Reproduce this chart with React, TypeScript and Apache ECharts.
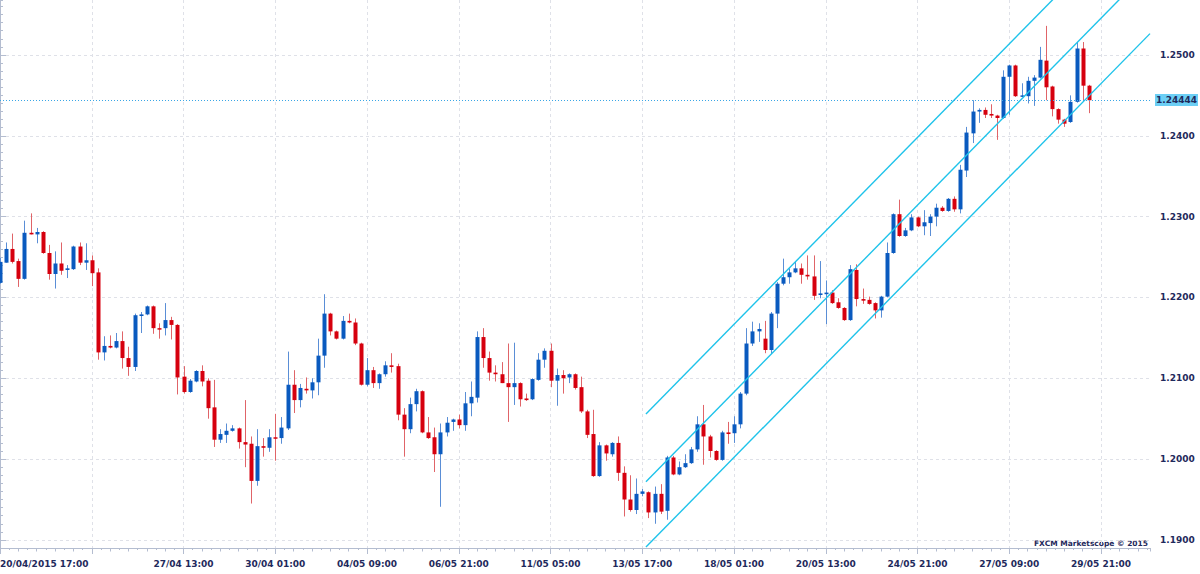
import React, { useEffect, useRef } from "react";
import * as echarts from "echarts";

// ---- data (4H candles, index = bar number) ----
const opens = [
  1.2218, 1.2243, 1.2260, 1.2245, 1.2223, 1.2280, 1.2278, 1.2281, 1.2255, 1.2229,
  1.2242, 1.2234, 1.2235, 1.2263, 1.2243, 1.2246, 1.2231, 1.2132, 1.2140, 1.2138,
  1.2146, 1.2125, 1.2114, 1.2177, 1.2179, 1.2189, 1.2162, 1.2162, 1.2172, 1.2166,
  1.2102, 1.2083, 1.2096, 1.2109, 1.2097, 1.2064, 1.2024, 1.2030, 1.2035, 1.2038,
  1.2021, 1.2019, 1.1973, 1.2016, 1.2014, 1.2027, 1.2026, 1.2038, 1.2092, 1.2073,
  1.2087, 1.2085, 1.2095, 1.2128, 1.2180, 1.2158, 1.2149, 1.2171, 1.2169, 1.2143,
  1.2092, 1.2110, 1.2094, 1.2105, 1.2116, 1.2115, 1.2055, 1.2037, 1.2068, 1.2084,
  1.2033, 1.2027, 1.2006, 1.2033, 1.2046, 1.2049, 1.2042, 1.2069, 1.2076, 1.2151,
  1.2125, 1.2107, 1.2105, 1.2094, 1.2089, 1.2094, 1.2075, 1.2074, 1.2098, 1.2123,
  1.2134, 1.2097, 1.2104, 1.2101, 1.2105, 1.2089, 1.2059, 1.2031, 1.1979, 1.2017,
  1.2006, 1.2020, 1.1983, 1.1950, 1.1937, 1.1957, 1.1959, 1.1934, 1.1957, 1.1936,
  1.2002, 1.1981, 1.1990, 1.1995, 1.2012, 1.2043, 1.2028, 1.2010, 1.1999, 1.2033,
  1.2032, 1.2043, 1.2081, 1.2143, 1.2158, 1.2149, 1.2135, 1.2180, 1.2217, 1.2225,
  1.2231, 1.2236, 1.2228, 1.2226, 1.2203, 1.2204, 1.2206, 1.2194, 1.2187, 1.2172,
  1.2234, 1.2198, 1.2197, 1.2193, 1.2184, 1.2201, 1.2255, 1.2303, 1.2276, 1.2283,
  1.2299, 1.2288, 1.2292, 1.2300, 1.2311, 1.2307, 1.2322, 1.2309, 1.2357, 1.2403,
  1.2430, 1.2432, 1.2427, 1.2425, 1.2422, 1.2473, 1.2487, 1.2449, 1.2449, 1.2468,
  1.2472, 1.2493, 1.2461, 1.2433, 1.2420, 1.2417, 1.2442, 1.2508, 1.2462,
];
const closes = [
  1.2244, 1.2260, 1.2244, 1.2223, 1.2280, 1.2278, 1.2281, 1.2255, 1.2229, 1.2242,
  1.2233, 1.2236, 1.2263, 1.2243, 1.2246, 1.2230, 1.2132, 1.2140, 1.2138, 1.2146,
  1.2125, 1.2114, 1.2178, 1.2179, 1.2189, 1.2162, 1.2161, 1.2172, 1.2166, 1.2101,
  1.2083, 1.2097, 1.2109, 1.2096, 1.2063, 1.2024, 1.2031, 1.2035, 1.2038, 1.2021,
  1.2018, 1.1973, 1.2016, 1.2014, 1.2027, 1.2026, 1.2039, 1.2092, 1.2073, 1.2088,
  1.2085, 1.2095, 1.2128, 1.2180, 1.2158, 1.2149, 1.2171, 1.2169, 1.2143, 1.2092,
  1.2110, 1.2094, 1.2105, 1.2116, 1.2114, 1.2055, 1.2037, 1.2068, 1.2084, 1.2033,
  1.2026, 1.2006, 1.2033, 1.2045, 1.2049, 1.2042, 1.2069, 1.2077, 1.2151, 1.2125,
  1.2107, 1.2105, 1.2094, 1.2089, 1.2094, 1.2074, 1.2073, 1.2099, 1.2123, 1.2134,
  1.2097, 1.2104, 1.2100, 1.2105, 1.2088, 1.2059, 1.2030, 1.1979, 1.2017, 1.2007,
  1.2020, 1.1983, 1.1950, 1.1937, 1.1957, 1.1960, 1.1934, 1.1957, 1.1935, 1.2002,
  1.1981, 1.1990, 1.1995, 1.2012, 1.2043, 1.2028, 1.2010, 1.1999, 1.2033, 1.2031,
  1.2043, 1.2081, 1.2143, 1.2158, 1.2161, 1.2135, 1.2180, 1.2217, 1.2225, 1.2231,
  1.2236, 1.2228, 1.2226, 1.2202, 1.2205, 1.2206, 1.2193, 1.2187, 1.2172, 1.2235,
  1.2198, 1.2196, 1.2192, 1.2184, 1.2201, 1.2255, 1.2303, 1.2276, 1.2283, 1.2299,
  1.2288, 1.2293, 1.2300, 1.2311, 1.2307, 1.2322, 1.2309, 1.2358, 1.2404, 1.2430,
  1.2432, 1.2426, 1.2425, 1.2422, 1.2473, 1.2487, 1.2449, 1.2450, 1.2468, 1.2472,
  1.2494, 1.2460, 1.2433, 1.2420, 1.2415, 1.2442, 1.2508, 1.2462, 1.2444,
];
const lows = [
  1.2217, 1.2243, 1.2242, 1.2213, 1.2222, 1.2278, 1.2267, 1.2254, 1.2222, 1.2211,
  1.2228, 1.2224, 1.2234, 1.2240, 1.2234, 1.2214, 1.2123, 1.2122, 1.2137, 1.2137,
  1.2112, 1.2103, 1.2109, 1.2156, 1.2178, 1.2155, 1.2149, 1.2153, 1.2148, 1.2080,
  1.2081, 1.2082, 1.2095, 1.2090, 1.2050, 1.2015, 1.2020, 1.2020, 1.2034, 1.2013,
  1.1990, 1.1945, 1.1967, 1.2003, 1.2009, 1.1998, 1.2019, 1.2036, 1.2057, 1.2064,
  1.2081, 1.2075, 1.2079, 1.2113, 1.2153, 1.2148, 1.2148, 1.2168, 1.2141, 1.2091,
  1.2090, 1.2088, 1.2087, 1.2102, 1.2107, 1.2048, 1.2003, 1.2032, 1.2059, 1.2032,
  1.2025, 1.1984, 1.1941, 1.2028, 1.2035, 1.2038, 1.2035, 1.2053, 1.2070, 1.2113,
  1.2097, 1.2096, 1.2094, 1.2046, 1.2067, 1.2065, 1.2072, 1.2073, 1.2097, 1.2113,
  1.2089, 1.2066, 1.2081, 1.2094, 1.2086, 1.2057, 1.2026, 1.1978, 1.1978, 1.1998,
  1.2003, 1.1973, 1.1929, 1.1935, 1.1932, 1.1954, 1.1927, 1.1920, 1.1932, 1.1925,
  1.1980, 1.1980, 1.1989, 1.1994, 1.2009, 1.1993, 1.2002, 1.1998, 1.1998, 1.2019,
  1.2020, 1.2038, 1.2079, 1.2140, 1.2145, 1.2131, 1.2130, 1.2162, 1.2215, 1.2217,
  1.2230, 1.2217, 1.2222, 1.2197, 1.2199, 1.2167, 1.2192, 1.2186, 1.2171, 1.2171,
  1.2189, 1.2192, 1.2191, 1.2174, 1.2175, 1.2200, 1.2254, 1.2275, 1.2275, 1.2282,
  1.2287, 1.2277, 1.2276, 1.2288, 1.2306, 1.2306, 1.2306, 1.2304, 1.2349, 1.2391,
  1.2416, 1.2422, 1.2422, 1.2395, 1.2421, 1.2426, 1.2448, 1.2448, 1.2440, 1.2437,
  1.2471, 1.2444, 1.2424, 1.2415, 1.2411, 1.2416, 1.2441, 1.2444, 1.2428,
];
const highs = [
  1.2249, 1.2268, 1.2279, 1.2248, 1.2295, 1.2304, 1.2286, 1.2282, 1.2265, 1.2257,
  1.2268, 1.2240, 1.2264, 1.2268, 1.2267, 1.2252, 1.2236, 1.2152, 1.2153, 1.2156,
  1.2158, 1.2139, 1.2180, 1.2182, 1.2190, 1.2190, 1.2168, 1.2193, 1.2176, 1.2167,
  1.2115, 1.2099, 1.2110, 1.2116, 1.2100, 1.2098, 1.2037, 1.2044, 1.2042, 1.2039,
  1.2073, 1.2028, 1.2037, 1.2026, 1.2037, 1.2056, 1.2052, 1.2133, 1.2110, 1.2093,
  1.2101, 1.2100, 1.2149, 1.2204, 1.2181, 1.2159, 1.2177, 1.2180, 1.2174, 1.2144,
  1.2125, 1.2114, 1.2106, 1.2121, 1.2131, 1.2118, 1.2063, 1.2076, 1.2087, 1.2085,
  1.2052, 1.2039, 1.2044, 1.2052, 1.2050, 1.2055, 1.2083, 1.2096, 1.2158, 1.2162,
  1.2133, 1.2116, 1.2120, 1.2143, 1.2144, 1.2095, 1.2081, 1.2100, 1.2131, 1.2137,
  1.2143, 1.2112, 1.2110, 1.2106, 1.2106, 1.2102, 1.2061, 1.2061, 1.2021, 1.2018,
  1.2021, 1.2028, 1.1991, 1.1980, 1.1976, 1.1963, 1.1960, 1.1966, 1.1969, 1.2004,
  1.2004, 1.1997, 1.2006, 1.2015, 1.2053, 1.2067, 1.2030, 1.2011, 1.2035, 1.2046,
  1.2053, 1.2083, 1.2162, 1.2170, 1.2168, 1.2171, 1.2182, 1.2219, 1.2248, 1.2236,
  1.2244, 1.2242, 1.2252, 1.2252, 1.2245, 1.2221, 1.2209, 1.2199, 1.2188, 1.2240,
  1.2241, 1.2211, 1.2201, 1.2194, 1.2202, 1.2268, 1.2304, 1.2321, 1.2286, 1.2303,
  1.2300, 1.2308, 1.2303, 1.2316, 1.2313, 1.2323, 1.2325, 1.2364, 1.2411, 1.2444,
  1.2434, 1.2435, 1.2439, 1.2426, 1.2481, 1.2488, 1.2488, 1.2465, 1.2473, 1.2475,
  1.2510, 1.2536, 1.2462, 1.2434, 1.2421, 1.2450, 1.2516, 1.2516, 1.2463,
];

// x-axis tick labels at every 15th bar
const tickIndex = [0, 15, 30, 45, 60, 75, 90, 105, 120, 135, 150, 165, 180];
const tickText = [
  "20/04/2015 17:00", "", "27/04 13:00", "30/04 01:00", "04/05 09:00", "06/05 21:00",
  "11/05 05:00", "13/05 17:00", "18/05 01:00", "20/05 13:00", "24/05 21:00",
  "27/05 09:00", "29/05 21:00",
];

// regression channel (bar index, price)
const channelX = [105.6, 188];
const channelUpper = [1.20557, 1.2691];
const channelMid = [1.19719, 1.26072];
const channelLower = [1.18911, 1.25264];

const lastPrice = 1.24444;

const Y_MIN = 1.189;
const Y_MAX = 1.2568;
const X_MAX = 188;

const NAVY = "#1f2a5c";
const AXIS = "#b4bdd0";
const GRID = "#dfe1e8";
const FONT = "DejaVu Sans";
const BLUE = "#0a5abf";
const BLUE_WICK = "#5a8ed6";
const RED = "#d6000e";
const RED_WICK = "#e06468";
const CYAN = "#1fc3ea";

export default function App() {
  const ref = useRef<HTMLDivElement>(null);

  useEffect(() => {
    if (!ref.current) return;
    const chart = echarts.init(ref.current, null, { renderer: "svg" });

    const candleData = opens.map((o, i) => [i, o, closes[i], lows[i], highs[i]]);
    const labelMap: Record<number, string> = {};
    tickIndex.forEach((t, k) => (labelMap[t] = tickText[k]));

    const mkLine = (ys: number[]) => channelX.map((x, k) => [x, ys[k]]);

    const minorX = (interval: number, len: number) => ({
      type: "value",
      min: 0,
      max: X_MAX,
      interval,
      position: "bottom",
      axisLine: { show: false },
      axisTick: { show: true, length: len, lineStyle: { color: AXIS } },
      axisLabel: { show: false },
      splitLine: { show: false },
    });

    const option: any = {
      animation: false,
      backgroundColor: "#ffffff",
      grid: { left: 0, right: 50, top: 0, bottom: 26, containLabel: false, outerBoundsMode: "none" },
      xAxis: [
        {
          type: "value",
          min: 0,
          max: X_MAX,
          interval: 15,
          position: "bottom",
          axisLine: { show: true, lineStyle: { color: AXIS, width: 1 } },
          axisTick: { show: true, length: 6, lineStyle: { color: AXIS } },
          axisLabel: {
            show: true,
            margin: 11,
            color: NAVY,
            fontFamily: FONT,
            fontWeight: "bold",
            fontSize: 9,
            alignMinLabel: "left",
            showMaxLabel: false,
            formatter: (v: number) => labelMap[Math.round(v)] ?? "",
          },
          splitLine: {
            show: true,
            showMinLine: false,
            showMaxLine: false,
            lineStyle: { color: GRID, type: [3, 3], width: 1 },
          },
        },
        minorX(1.5, 2),
        minorX(3, 3.5),
      ],
      yAxis: [
        {
          type: "value",
          position: "right",
          min: Y_MIN,
          max: Y_MAX,
          splitNumber: 6,
          scale: true,
          axisLine: { show: true, lineStyle: { color: AXIS, width: 1 } },
          axisTick: { show: true, length: 6, lineStyle: { color: AXIS } },
          axisLabel: {
            show: true,
            margin: 10,
            color: NAVY,
            fontFamily: FONT,
            fontWeight: "bold",
            fontSize: 9,
            showMinLabel: false,
            showMaxLabel: false,
            formatter: (v: number) => v.toFixed(4),
          },
          splitLine: {
            show: true,
            showMinLine: false,
            showMaxLine: false,
            lineStyle: { color: GRID, type: [3, 3], width: 1 },
          },
        },
        {
          type: "value",
          position: "right",
          min: Y_MIN,
          max: Y_MAX,
          interval: 0.001,
          scale: true,
          axisLine: { show: false },
          axisTick: { show: true, length: 3, lineStyle: { color: AXIS } },
          axisLabel: { show: false },
          splitLine: { show: false },
        },
      ],
      series: [
        {
          type: "custom",
          name: "candles",
          xAxisIndex: 0,
          yAxisIndex: 0,
          clip: true,
          encode: { x: 0, y: [1, 2, 3, 4] },
          data: candleData,
          renderItem: (params: any, api: any) => {
            const i = api.value(0);
            const o = api.value(1);
            const c = api.value(2);
            const l = api.value(3);
            const h = api.value(4);
            const up = c >= o;
            const pO = api.coord([i, o]);
            const pC = api.coord([i, c]);
            const pL = api.coord([i, l]);
            const pH = api.coord([i, h]);
            const xc = Math.round(pO[0]) + 0.5;
            const top = Math.min(pO[1], pC[1]);
            const bot = Math.max(pO[1], pC[1]);
            const hgt = Math.max(bot - top, 1.5);
            return {
              type: "group",
              children: [
                {
                  type: "line",
                  shape: { x1: xc, y1: pH[1], x2: xc, y2: pL[1] },
                  style: { stroke: up ? BLUE_WICK : RED_WICK, lineWidth: 1 },
                },
                {
                  type: "rect",
                  shape: { x: xc - 2, y: top, width: 4, height: hgt },
                  style: { fill: up ? BLUE : RED },
                },
              ],
            };
          },
        },
        {
          type: "line",
          name: "upper",
          data: mkLine(channelUpper),
          showSymbol: false,
          symbol: "none",
          lineStyle: { color: CYAN, width: 1.4 },
          silent: true,
        },
        {
          type: "line",
          name: "mid",
          data: mkLine(channelMid),
          showSymbol: false,
          symbol: "none",
          lineStyle: { color: CYAN, width: 1.4 },
          silent: true,
          markLine: {
            silent: true,
            symbol: "none",
            precision: 5,
            animation: false,
            lineStyle: { color: "#3aa6e6", type: [1, 2], width: 1 },
            label: {
              show: true,
              position: "end",
              distance: 5,
              formatter: lastPrice.toFixed(5),
              color: NAVY,
              fontFamily: FONT,
              fontWeight: "bold",
              fontSize: 9,
              backgroundColor: "#6ccff5",
              padding: [2, 1, 1, 1],
            },
            data: [{ yAxis: lastPrice }],
          },
        },
        {
          type: "line",
          name: "lower",
          data: mkLine(channelLower),
          showSymbol: false,
          symbol: "none",
          lineStyle: { color: CYAN, width: 1.4 },
          silent: true,
        },
      ],
      graphic: [
        {
          type: "text",
          right: 52,
          top: 539,
          style: {
            text: "FXCM Marketscope © 2015",
            fill: NAVY,
            font: `bold 7.5px "${FONT}"`,
          },
          silent: true,
        },
      ],
    };

    chart.setOption(option);
    return () => chart.dispose();
  }, []);

  return (
    <div
      ref={ref}
      style={{ position: "fixed", left: 0, top: 0, width: 1200, height: 574, background: "#fff" }}
    />
  );
}
